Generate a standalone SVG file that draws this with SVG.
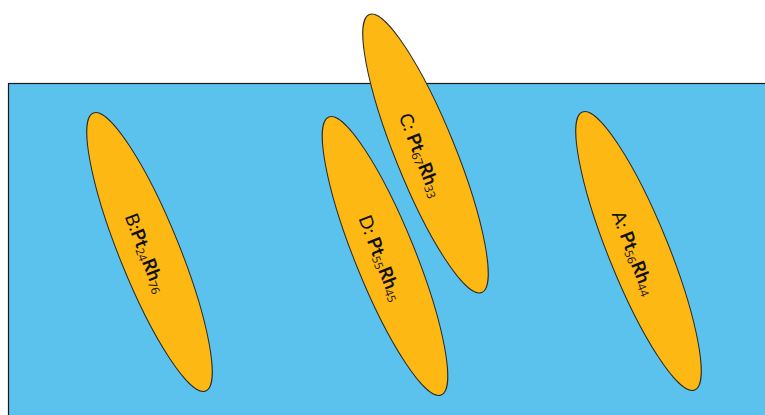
<svg xmlns="http://www.w3.org/2000/svg" width="765" height="415" viewBox="0 0 765 415">
<style>
.bg{fill:#5bc2ee;stroke:#1a1a1a;stroke-width:1.2}
.ell{fill:#fdb813;stroke:#2a2a2a;stroke-width:1}
.lbl{font-family:Lato,"Open Sans",sans-serif;font-size:18.5px;fill:#111;text-anchor:middle;dominant-baseline:central}
.b{font-weight:bold}
.s{font-family:"Open Sans",sans-serif;font-size:11.5px}
</style>
<rect width="765" height="415" fill="#ffffff"/>
<rect class="bg" x="8.5" y="83.5" width="770" height="340"/>
<g id="nodeB">
<ellipse class="ell" cx="149.5" cy="252" rx="30" ry="150" transform="rotate(-22 149.5 252)"/>
<text class="lbl" x="146" y="253" transform="rotate(69 146 253)">B:<tspan class="b">Pt</tspan><tspan class="s" dy="4">24</tspan><tspan class="b" dy="-4">Rh</tspan><tspan class="s" dy="4">76</tspan></text>
</g>
<g id="nodeD">
<ellipse class="ell" cx="385" cy="256" rx="30" ry="150" transform="rotate(-22 385 256)"/>
<text class="lbl" x="381" y="258" transform="rotate(69 381 258)">D: <tspan class="b">Pt</tspan><tspan class="s" dy="4">55</tspan><tspan class="b" dy="-4">Rh</tspan><tspan class="s" dy="4">45</tspan></text>
</g>
<g id="nodeC">
<ellipse class="ell" cx="425.5" cy="153.5" rx="30" ry="150" transform="rotate(-22 425.5 153.5)"/>
<text class="lbl" x="421" y="155" transform="rotate(69 421 155)">C: <tspan class="b">Pt</tspan><tspan class="s" dy="4">67</tspan><tspan class="b" dy="-4">Rh</tspan><tspan class="s" dy="4">33</tspan></text>
</g>
<g id="nodeA">
<ellipse class="ell" cx="638.5" cy="251" rx="30" ry="150" transform="rotate(-22 638.5 251)"/>
<text class="lbl" x="634" y="253" transform="rotate(69 634 253)">A: <tspan class="b">Pt</tspan><tspan class="s" dy="4">56</tspan><tspan class="b" dy="-4">Rh</tspan><tspan class="s" dy="4">44</tspan></text>
</g>
<g id="connectors"></g>
</svg>
